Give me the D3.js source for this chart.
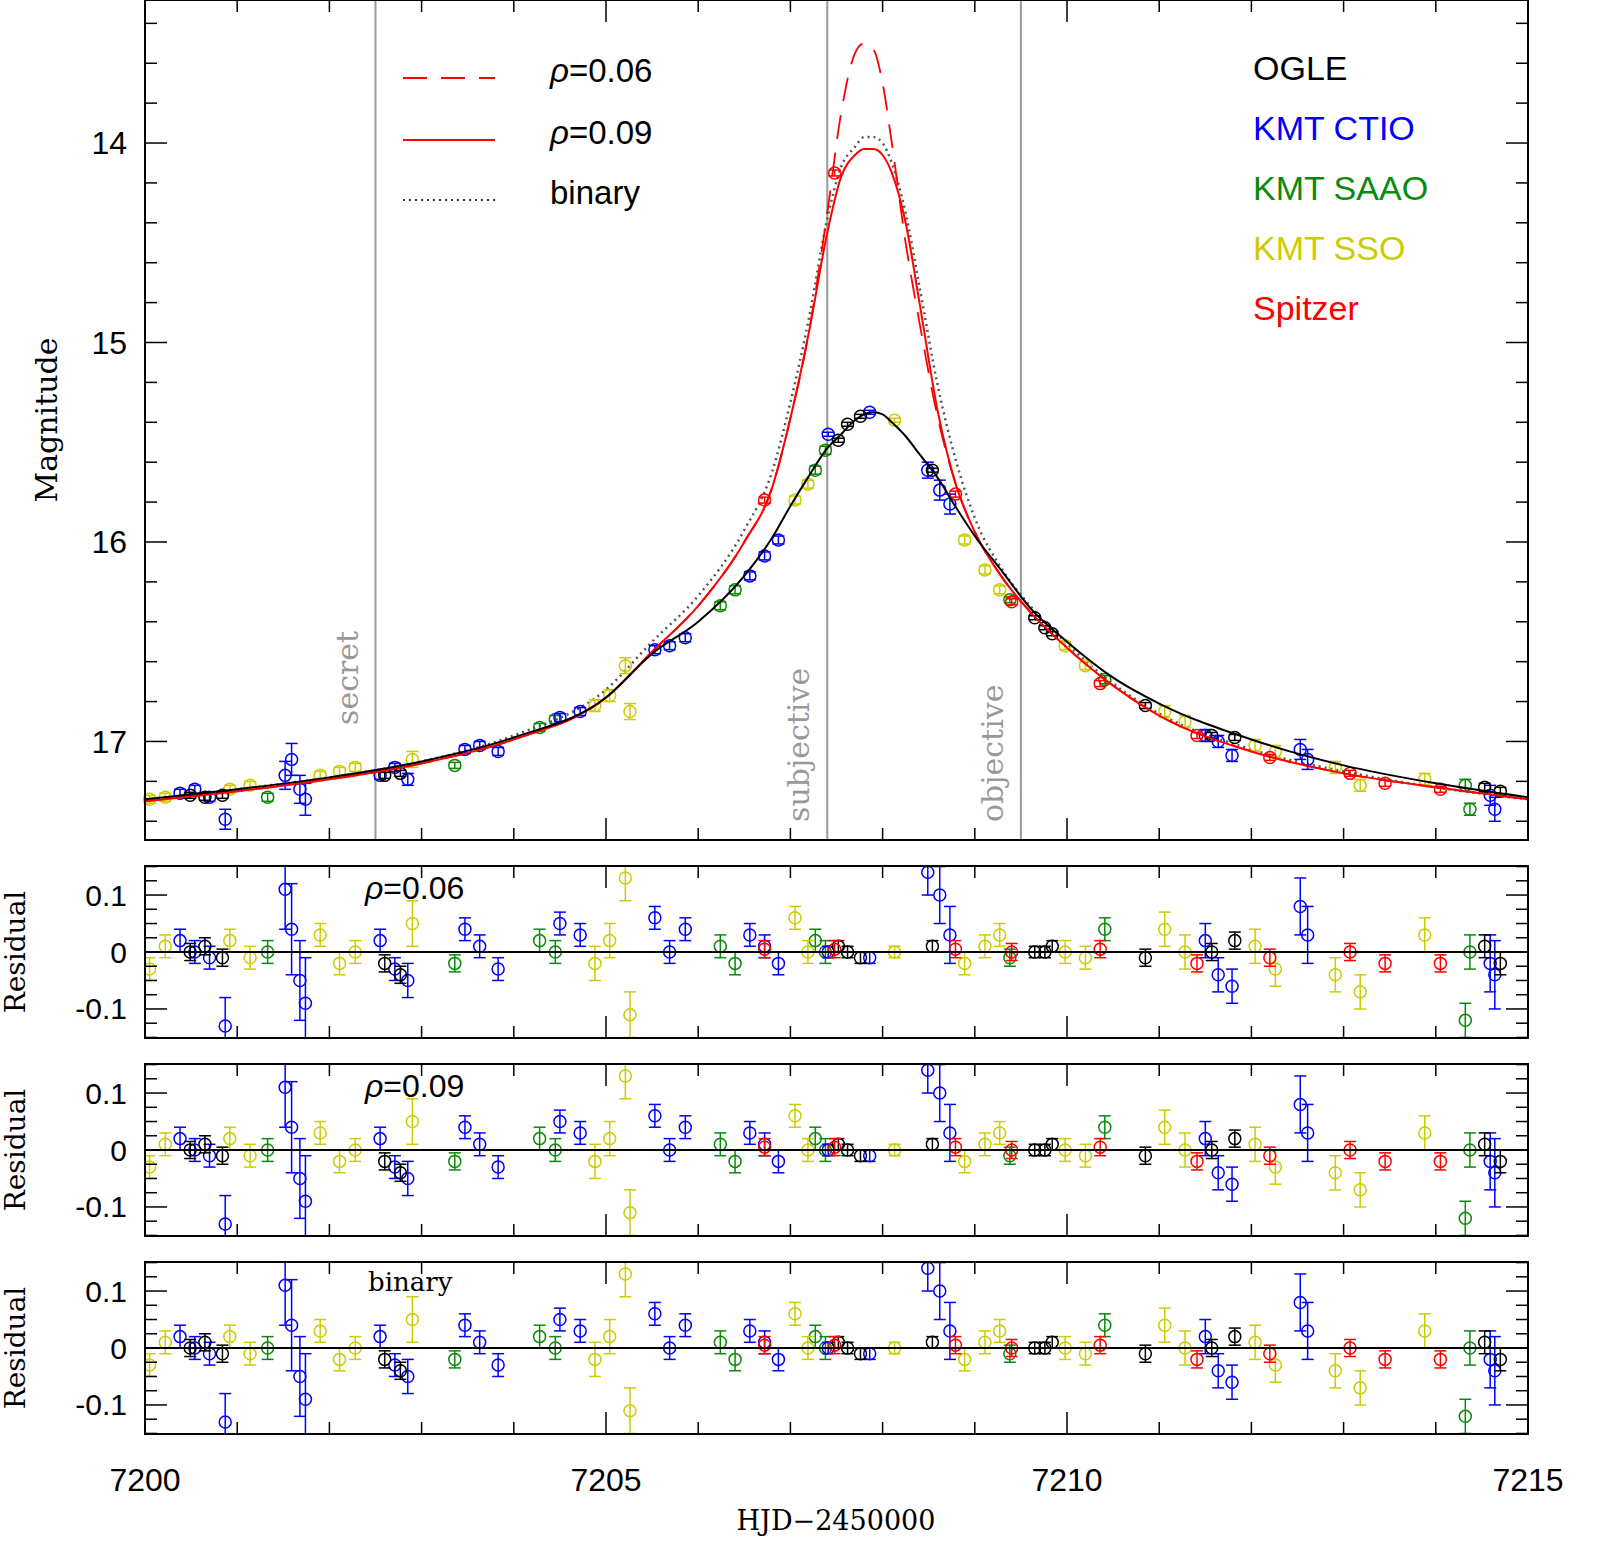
<!DOCTYPE html>
<html><head><meta charset="utf-8">
<script src="https://cdn.jsdelivr.net/npm/d3@7"></script>
<style>body{margin:0;background:#fff}</style>
</head><body>
<svg id="chart" width="1601" height="1563"></svg>
<script>
// light curve data: [HJD-2450000, magnitude, error]
const ogle = [[7200.49,17.27,.015],[7200.65,17.28,.015],[7200.84,17.27,.015],[7202.60,17.17,.015],[7202.77,17.16,.015],
  [7207.52,15.49,.01],[7207.62,15.41,.01],[7207.76,15.37,.01],[7208.54,15.64,.01],[7209.65,16.38,.01],[7209.76,16.43,.01],
  [7209.84,16.46,.01],[7210.85,16.82,.015],[7211.57,16.97,.015],[7211.82,16.98,.015],[7214.53,17.23,.02],[7214.70,17.25,.02]];
const ogleRes = [0.00,0.01,-0.01,-0.02,-0.04,0.01,0.00,-0.01,0.01,0.00,0.00,0.01,-0.01,0.00,0.02,0.01,-0.02];

const ctio = [[7200.38,17.26,.02],[7200.54,17.24,.02],[7200.70,17.28,.02],[7200.87,17.39,.05],[7201.52,17.17,.07],[7201.59,17.09,.08],
  [7201.68,17.24,.07],[7201.74,17.29,.08],[7202.55,17.17,.02],[7202.71,17.13,.02],[7202.85,17.19,.03],[7203.47,17.04,.02],
  [7203.63,17.02,.02],[7203.83,17.05,.02],[7204.50,16.88,.02],[7204.72,16.85,.02],[7205.53,16.54,.02],[7205.69,16.52,.02],
  [7205.86,16.48,.02],[7206.56,16.17,.02],[7206.72,16.07,.02],[7206.87,15.99,.02],[7207.41,15.46,.01],[7207.86,15.35,.01],
  [7208.49,15.64,.04],[7208.62,15.74,.05],[7208.73,15.81,.05],[7211.50,16.97,.03],[7211.64,17.00,.03],[7211.79,17.07,.03],
  [7212.53,17.04,.05],[7212.61,17.09,.05],[7214.59,17.27,.05],[7214.64,17.34,.06]];
const ctioRes = [0.02,0.00,-0.01,-0.13,0.11,0.04,-0.05,-0.09,0.02,-0.03,-0.05,0.04,0.01,-0.03,0.05,0.03,0.06,0.00,0.04,
  0.03,0.01,-0.02,0.00,-0.01,0.14,0.10,0.03,0.02,-0.04,-0.06,0.08,0.03,-0.02,-0.04];

const saao = [[7201.33,17.28,.02],[7203.36,17.12,.015],[7204.28,16.93,.02],[7204.45,16.89,.02],[7206.24,16.32,.02],[7206.40,16.24,.02],
  [7207.27,15.64,.02],[7207.38,15.54,.02],[7209.38,16.29,.015],[7210.41,16.69,.02],[7214.32,17.22,.03],[7214.37,17.34,.03]];
const saaoRes = [0.00,-0.02,0.02,0.00,0.01,-0.02,0.02,0.00,-0.01,0.04,-0.12,0.00];

const sso = [[7200.05,17.29,.02],[7200.22,17.28,.02],[7200.92,17.24,.02],[7201.14,17.22,.02],[7201.90,17.17,.02],[7202.11,17.15,.02],
  [7202.28,17.13,.02],[7202.90,17.09,.04],[7204.88,16.82,.03],[7205.04,16.77,.03],[7205.21,16.62,.04],[7205.26,16.85,.04],
  [7207.05,15.79,.02],[7207.19,15.71,.02],[7208.13,15.39,.01],[7208.89,15.99,.02],[7209.11,16.14,.02],[7209.27,16.24,.02],
  [7209.98,16.52,.02],[7210.20,16.62,.02],[7211.06,16.85,.03],[7211.28,16.90,.03],[7212.04,17.02,.03],[7212.26,17.05,.03],
  [7212.91,17.13,.03],[7213.18,17.22,.03],[7213.88,17.19,.03]];
const ssoRes = [-0.03,0.01,0.02,-0.01,0.03,-0.02,0.00,0.05,-0.02,0.02,0.13,-0.11,0.06,0.00,0.00,-0.02,0.01,0.03,0.00,-0.01,
  0.04,0.00,0.01,-0.03,-0.04,-0.07,0.03];

const spitzer = [[7206.72,15.79,.015],[7207.48,14.15,.015],[7208.79,15.76,.015],[7209.40,16.30,.015],[7210.36,16.71,.015],
  [7211.41,16.97,.015],[7212.20,17.08,.015],[7213.07,17.16,.015],[7213.45,17.21,.015],[7214.05,17.24,.015]];
const spitzerRes = [0.005,0.005,0.005,0.00,0.005,-0.02,-0.01,0.00,-0.02,-0.02];

// model curves
const tCurve = [7200,7201,7202,7203,7204,7205,7205.5,7206,7206.5,7206.8,7207,7207.2,7207.4,7207.55,7207.7,7207.8,7207.9,
  7208,7208.1,7208.25,7208.4,7208.6,7208.8,7209,7209.3,7209.6,7210,7210.5,7211,7212,7213,7214,7215];
const groundModel = [17.29,17.24,17.18,17.10,16.98,16.78,16.56,16.40,16.17,15.98,15.82,15.67,15.53,15.46,15.39,15.36,15.35,
  15.36,15.40,15.47,15.56,15.68,15.83,15.97,16.15,16.33,16.50,16.68,16.81,16.99,17.12,17.21,17.28];
const rho09 = [17.30,17.25,17.19,17.11,16.99,16.78,16.55,16.32,16.00,15.73,15.38,14.95,14.45,14.17,14.06,14.03,14.03,
  14.06,14.15,14.40,14.80,15.35,15.72,15.95,16.18,16.35,16.53,16.72,16.87,17.05,17.16,17.23,17.29];
const rho06 = [17.30,17.25,17.19,17.11,16.99,16.78,16.55,16.32,16.00,15.73,15.38,14.95,14.35,13.85,13.55,13.50,13.53,
  13.70,14.00,14.50,14.90,15.38,15.72,15.95,16.18,16.35,16.53,16.72,16.87,17.05,17.16,17.23,17.29];
const binaryModel = [17.29,17.24,17.18,17.10,16.97,16.74,16.50,16.27,15.94,15.65,15.30,14.88,14.38,14.12,14.02,13.97,13.97,
  14.00,14.10,14.35,14.72,15.22,15.60,15.88,16.14,16.32,16.51,16.71,16.86,17.04,17.15,17.23,17.29];

const markers = [7202.5, 7207.4, 7209.5];
const markerLabels = ["secret", "subjective", "objective"];
const xTicks = [7200, 7205, 7210, 7215];
const magTicks = [14, 15, 16, 17];
const resTicks = [0.1, 0, -0.1];
const resPanels = ["\u03c1=0.06", "\u03c1=0.09", "binary"];
const legendNames = ["OGLE", "KMT CTIO", "KMT SAAO", "KMT SSO", "Spitzer"];

const sets = [
  {d: saao, r: saaoRes, c: "#0a8a0a"},
  {d: sso, r: ssoRes, c: "#cccc00"},
  {d: ctio, r: ctioRes, c: "#0000ff"},
  {d: ogle, r: ogleRes, c: "#000000"},
  {d: spitzer, r: spitzerRes, c: "#ff0000"}
];
const legendColors = ["#000", "#0000ff", "#0a8a0a", "#cccc00", "#ff0000"];

const svg = d3.select("#chart");
const L = 145, R = 1528;
const x = d3.scaleLinear().domain([7200, 7215]).range([L, R]);
const y = d3.scaleLinear().domain([13.283, 17.494]).range([0, 840]);
const sans = "Liberation Sans, Arial, sans-serif", serif = "DejaVu Serif, serif";

function frame(top, bot, ys, yt, minorStep, tickFmt, tickSize) {
  const g = svg.append("g");
  // x ticks, top and bottom, minor each day
  d3.range(7200, 7216, 1).forEach(t => {
    const len = t % 5 === 0 ? 22 : 12;
    g.append("line").attr("x1", x(t)).attr("x2", x(t)).attr("y1", bot).attr("y2", bot - len).attr("stroke", "#000").attr("stroke-width", 1.5);
    g.append("line").attr("x1", x(t)).attr("x2", x(t)).attr("y1", top).attr("y2", top + len).attr("stroke", "#000").attr("stroke-width", 1.5);
  });
  const [d0, d1] = ys.domain();
  const lo = Math.min(d0, d1), hi = Math.max(d0, d1);
  for (let v = Math.ceil(lo / minorStep) * minorStep; v <= hi + 1e-9; v += minorStep) {
    const major = yt.some(m => Math.abs(m - v) < 1e-6);
    const len = major ? 22 : 12;
    [[L, L + len], [R, R - len]].forEach(([a, b]) =>
      g.append("line").attr("x1", a).attr("x2", b).attr("y1", ys(v)).attr("y2", ys(v)).attr("stroke", "#000").attr("stroke-width", 1.5));
  }
  yt.forEach(v => g.append("text").attr("x", L - 18).attr("y", ys(v)).attr("dy", "0.35em").attr("text-anchor", "end")
    .attr("font-family", sans).attr("font-size", tickSize).text(tickFmt(v)));
  g.append("rect").attr("x", L).attr("y", top).attr("width", R - L).attr("height", bot - top)
    .attr("fill", "none").attr("stroke", "#000").attr("stroke-width", 2);
}

function points(g, data, xv, yv, ev, color, ys) {
  data.forEach((p, i) => {
    const cx = x(xv(p, i)), cy = ys(yv(p, i)), e = Math.abs(ys(yv(p, i) + ev(p, i)) - cy);
    g.append("line").attr("x1", cx).attr("x2", cx).attr("y1", cy - e).attr("y2", cy + e).attr("stroke", color).attr("stroke-width", 1.5);
    [cy - e, cy + e].forEach(yy => g.append("line").attr("x1", cx - 6).attr("x2", cx + 6).attr("y1", yy).attr("y2", yy).attr("stroke", color).attr("stroke-width", 1.5));
    g.append("circle").attr("cx", cx).attr("cy", cy).attr("r", 6).attr("fill", "none").attr("stroke", color).attr("stroke-width", 1.5);
  });
}

// ---- main panel ----
const main = svg.append("g");
markers.forEach((m, i) => {
  main.append("line").attr("x1", x(m)).attr("x2", x(m)).attr("y1", 0).attr("y2", 840).attr("stroke", "#999").attr("stroke-width", 2);
  const bx = x(m) - 18, by = [725, 822, 822][i];
  main.append("text").attr("transform", `translate(${bx},${by}) rotate(-90)`).attr("font-family", serif)
    .attr("font-size", 30).attr("fill", "#999").text(markerLabels[i]);
});
const line = arr => d3.line().curve(d3.curveMonotoneX).x((d, i) => x(tCurve[i])).y(d => y(d))(arr);
main.append("path").attr("d", line(binaryModel)).attr("fill", "none").attr("stroke", "#555").attr("stroke-width", 2.5).attr("stroke-dasharray", "2,4");
main.append("path").attr("d", line(rho06)).attr("fill", "none").attr("stroke", "#ff0000").attr("stroke-width", 1.8).attr("stroke-dasharray", "24,14");
const pts = main.append("g");
sets.forEach(s => points(pts, s.d, p => p[0], p => p[1], p => p[2], s.c, y));
main.append("path").attr("d", line(rho09)).attr("fill", "none").attr("stroke", "#ff0000").attr("stroke-width", 2);
main.append("path").attr("d", line(groundModel)).attr("fill", "none").attr("stroke", "#000").attr("stroke-width", 2);
frame(0, 840, y, magTicks, 0.2, d => d, 32);

// legends
const lg = svg.append("g");
[["#ff0000", "24,14", "\u03c1", "=0.06", 78], ["#ff0000", null, "\u03c1", "=0.09", 140], ["#333", "2,4", null, "binary", 200]].forEach(([c, da, sym, t, ly]) => {
  lg.append("line").attr("x1", 403).attr("x2", 495).attr("y1", ly).attr("y2", ly).attr("stroke", c).attr("stroke-width", 2).attr("stroke-dasharray", da);
  const tx = lg.append("text").attr("x", 550).attr("y", ly - 8).attr("dy", "0.35em").attr("font-family", sans).attr("font-size", 33);
  if (sym) tx.append("tspan").attr("font-style", "italic").text(sym);
  tx.append("tspan").text(t);
});
legendNames.forEach((n, i) => lg.append("text").attr("x", 1253).attr("y", 68 + i * 60).attr("dy", "0.35em")
  .attr("font-family", sans).attr("font-size", 34).attr("fill", legendColors[i]).text(n));
svg.append("text").attr("transform", "translate(57,420) rotate(-90)").attr("text-anchor", "middle")
  .attr("font-family", serif).attr("font-size", 30).text("Magnitude");

// ---- residual panels ----
[866, 1064, 1262].forEach((top, k) => {
  const bot = top + 172;
  const ys = d3.scaleLinear().domain([0.151, -0.151]).range([top, bot]);
  const g = svg.append("g");
  g.append("defs").append("clipPath").attr("id", "c" + k).append("rect").attr("x", L).attr("y", top).attr("width", R - L).attr("height", bot - top);
  const inner = g.append("g").attr("clip-path", `url(#c${k})`);
  sets.forEach(s => points(inner, s.r, (p, i) => s.d[i][0], p => p, (p, i) => s.d[i][2], s.c, ys));
  inner.append("line").attr("x1", L).attr("x2", R).attr("y1", ys(0)).attr("y2", ys(0)).attr("stroke", "#000").attr("stroke-width", 2);
  frame(top, bot, ys, resTicks, 0.025, d => d === 0 ? "0" : d3.format(".1f")(d).replace("\u2212", "-"), 30);
  const lab = g.append("text").attr("x", 365).attr("y", top + 22).attr("dy", "0.35em");
  if (k < 2) {
    lab.attr("font-family", sans).attr("font-size", 32);
    lab.append("tspan").attr("font-style", "italic").text("\u03c1");
    lab.append("tspan").text(resPanels[k].slice(1));
  } else {
    lab.attr("font-family", serif).attr("font-size", 26).attr("x", 368).attr("y", top + 20).text(resPanels[k]);
  }
  svg.append("text").attr("transform", `translate(25,${top + 86}) rotate(-90)`).attr("text-anchor", "middle")
    .attr("font-family", serif).attr("font-size", 28).text("Residual");
});

// x tick labels and title
xTicks.forEach(t => svg.append("text").attr("x", x(t)).attr("y", 1480).attr("dy", "0.35em").attr("text-anchor", "middle")
  .attr("font-family", sans).attr("font-size", 32).text(t));
svg.append("text").attr("x", 836).attr("y", 1530).attr("text-anchor", "middle").attr("font-family", serif)
  .attr("font-size", 27).text("HJD\u22122450000");
</script>
</body></html>
